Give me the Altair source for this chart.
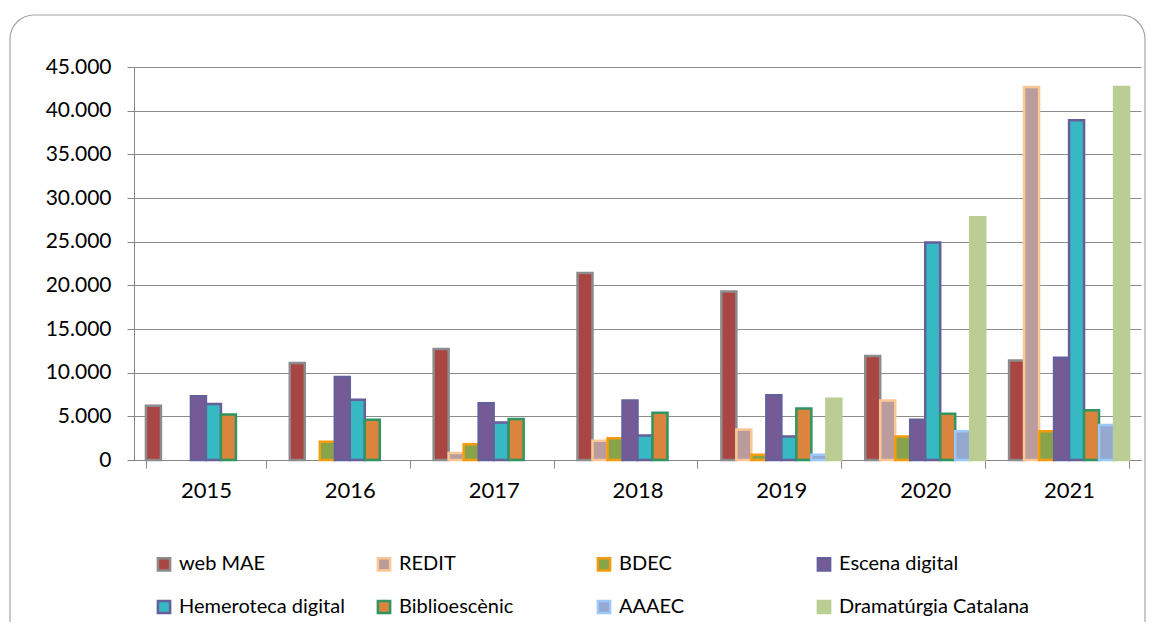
import altair as alt
import pandas as pd

years = ["2015", "2016", "2017", "2018", "2019", "2020", "2021"]
series = ["web MAE", "REDIT", "BDEC", "Escena digital",
          "Hemeroteca digital", "Biblioescènic", "AAAEC", "Dramatúrgia Catalana"]

web_mae = [6200, 11100, 12700, 21400, 19300, 11900, 11400]
redit = [None, None, 800, 2200, 3500, 6800, 42700]
bdec = [None, 2100, 1800, 2500, 600, 2700, 3300]
escena = [7300, 9500, 6500, 6800, 7400, 4600, 11700]
hemeroteca = [6400, 6900, 4300, 2800, 2700, 24900, 38900]
biblio = [5200, 4600, 4700, 5400, 5900, 5300, 5700]
aaaec = [None, None, None, None, 600, 3300, 4000]
drama = [None, None, None, None, 7000, 27800, 42700]

fills = ["#A94542", "#BA9C9C", "#88A44B", "#755B96",
         "#36B9C3", "#DA843E", "#94A8D0", "#BACE94"]
strokes = ["#8C8C8C", "#FCC796", "#F79B0E", "#65609A",
           "#675F99", "#2F9562", "#9BC8F8", "#BACE94"]

values = [web_mae, redit, bdec, escena, hemeroteca, biblio, aaaec, drama]
rows = []
for s, vals in zip(series, values):
    for y, v in zip(years, vals):
        if v is not None:
            rows.append({"year": y, "series": s, "value": v})
df = pd.DataFrame(rows)

FONT = "Lato"

legend_kw = dict(title=None, orient="none", legendX=20, legendY=487,
                 columns=4, direction="horizontal",
                 symbolType="square", symbolSize=150,
                 symbolStrokeWidth=2.5, labelFontSize=20,
                 labelFont=FONT, labelColor="#000000",
                 gridAlign="all", columnPadding=3,
                 rowPadding=19, labelOffset=5, labelLimit=300)

frame = alt.Chart(pd.DataFrame({"a": [0]})).mark_rect(
    fill="transparent", stroke="#A6A6A6", strokeWidth=1.2, cornerRadius=24
).encode(
    x=alt.value(-124), x2=alt.value(1011), y=alt.value(-52), y2=alt.value(700)
)

bars = alt.Chart(df).mark_bar(strokeWidth=2.5).encode(
    x=alt.X("year:N", sort=years, title=None,
            scale=alt.Scale(paddingInner=0.166, paddingOuter=0.083),
            axis=alt.Axis(labelAngle=0, tickBand="extent", tickSize=8,
                          labelPadding=12, labelFontSize=22, labelFont=FONT,
                          labelColor="#000000", domainColor="#868686",
                          tickColor="#868686", grid=False)),
    xOffset=alt.XOffset("series:N", sort=series,
                        scale=alt.Scale(domain=series, paddingInner=0, paddingOuter=0)),
    y=alt.Y("value:Q", title=None,
            scale=alt.Scale(domain=[0, 45000], nice=False),
            axis=alt.Axis(values=list(range(0, 45001, 5000)), tickSize=7,
                          labelPadding=16, labelFontSize=21, labelFont=FONT,
                          labelColor="#000000", domainColor="#868686",
                          tickColor="#868686", gridColor="#8C8C8C",
                          labelExpr="replace(format(datum.value, ',.0f'), ',', '.')")),
    fill=alt.Fill("series:N", sort=series,
                  scale=alt.Scale(domain=series, range=fills),
                  legend=alt.Legend(**legend_kw)),
    stroke=alt.Stroke("series:N", sort=series,
                      scale=alt.Scale(domain=series, range=strokes),
                      legend=alt.Legend(**legend_kw)),
)

chart = alt.layer(frame, bars).properties(
    width=1007, height=393,
    autosize=alt.AutoSizeParams(type="none"),
    padding={"left": 126, "top": 59, "right": 6, "bottom": 162},
    background="white",
).configure_view(stroke=None)

chart.save("out.html", embed_options={"renderer": "svg", "actions": False})
